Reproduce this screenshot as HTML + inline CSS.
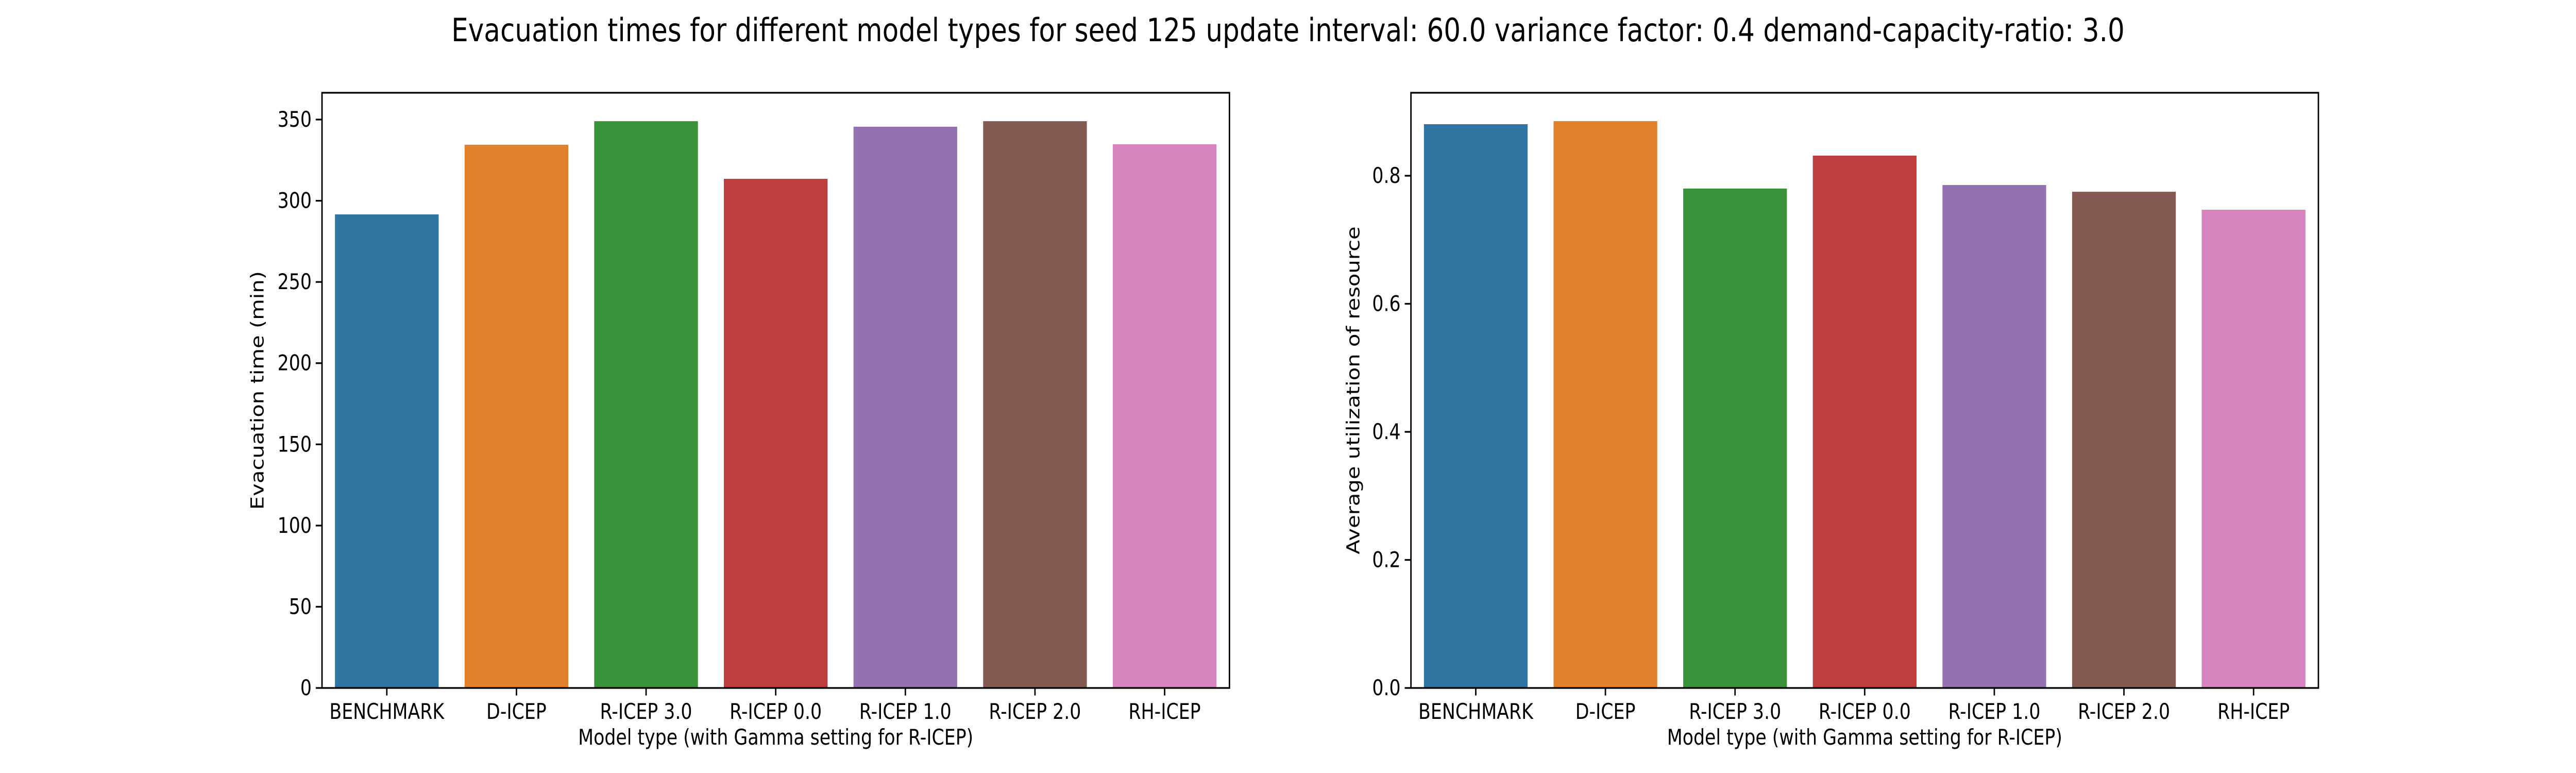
<!DOCTYPE html>
<html><head><meta charset="utf-8"><style>
html,body{margin:0;padding:0;background:#fff;overflow:hidden;width:100%;height:100%;}
svg{display:block;width:100vw;height:100vh;font-family:"DejaVu Sans","Liberation Sans",sans-serif;}
</style></head><body>
<svg id="fig" viewBox="0 0 6000 1500" preserveAspectRatio="none" xmlns="http://www.w3.org/2000/svg">
<rect width="6000" height="1500" fill="#fff"/>
<text x="3000" y="80" font-size="62" text-anchor="middle" fill="#000">Evacuation times for different model types for seed 125 update interval: 60.0 variance factor: 0.4 demand-capacity-ratio: 3.0</text>
</svg>
<script>
const categories = ["BENCHMARK","D-ICEP","R-ICEP 3.0","R-ICEP 0.0","R-ICEP 1.0","R-ICEP 2.0","RH-ICEP"];
const colors = ["#3274a1","#e1812c","#3a923a","#c03d3e","#9372b2","#845b53","#d684bd"];
const evacTimes = [291.6, 334.5, 349, 313.5, 345.6, 349, 334.8];
const utilization = [0.8805, 0.8853, 0.780, 0.8314, 0.7855, 0.775, 0.7469];
const evacTicks = [0,50,100,150,200,250,300,350];
const utilTicks = [0.0,0.2,0.4,0.6,0.8];
const utilTickLabels = ["0.0","0.2","0.4","0.6","0.8"];

const NS = "http://www.w3.org/2000/svg";
const svg = document.getElementById("fig");
function mk(tag, attrs, parent){
  const e = document.createElementNS(NS, tag);
  for (const k in attrs) e.setAttribute(k, attrs[k]);
  (parent||svg).appendChild(e);
  return e;
}
function drawPanel(prefix, left, right, top, bottom, values, yMax, ticks, tickLabels, yLabel, yLabelX){
  const g = mk("g", {});
  
  
  const n = categories.length;
  const xScale = i => left + (i + 0.5) / n * (right - left);
  const band = (right - left) / n;
  const yScale = v => bottom - v / yMax * (bottom - top);
  values.forEach((v, i) => {
    const r = mk("rect", {x: xScale(i) - band*0.4, y: yScale(v), width: band*0.8, height: bottom - yScale(v), fill: colors[i]}, g);
    
    
  });
  mk("rect", {x:left, y:top, width:right-left, height:bottom-top, fill:"none", stroke:"#000", "stroke-width":3.3}, g);
  ticks.forEach((t, i) => {
    const y = yScale(t);
    mk("line", {x1:left-14.6, x2:left, y1:y, y2:y, stroke:"#000", "stroke-width":3.3}, g);
    const tx = mk("text", {x:left-24, y:y+14, "font-size":41.7, "text-anchor":"end", fill:"#000"}, g);
    tx.textContent = tickLabels[i];
    
    
  });
  categories.forEach((c, i) => {
    const x = xScale(i);
    mk("line", {x1:x, x2:x, y1:bottom, y2:bottom+14.6, stroke:"#000", "stroke-width":3.3}, g);
    const tx = mk("text", {x:x, y:bottom+60, "font-size":41.7, "text-anchor":"middle", fill:"#000"}, g);
    tx.textContent = c;
    
    
  });
  const xl = mk("text", {x:(left+right)/2, y:bottom+110, "font-size":41.7, "text-anchor":"middle", fill:"#000"}, g);
  xl.textContent = "Model type (with Gamma setting for R-ICEP)";
  
  
  const cy = (top+bottom)/2;
  const yl = mk("text", {x:yLabelX, y:cy, "font-size":41.7, "text-anchor":"middle", fill:"#000", transform:"rotate(-90 "+yLabelX+" "+cy+")"}, g);
  yl.textContent = yLabel;
  
  
}
drawPanel("evacuation", 750, 2863.6, 180, 1335, evacTimes, 366.5, evacTicks, evacTicks.map(String), "Evacuation time (min)", 614);
drawPanel("utilization", 3286.4, 5400, 180, 1335, utilization, 0.9296, utilTicks, utilTickLabels, "Average utilization of resource", 3166);
</script>
</body></html>
